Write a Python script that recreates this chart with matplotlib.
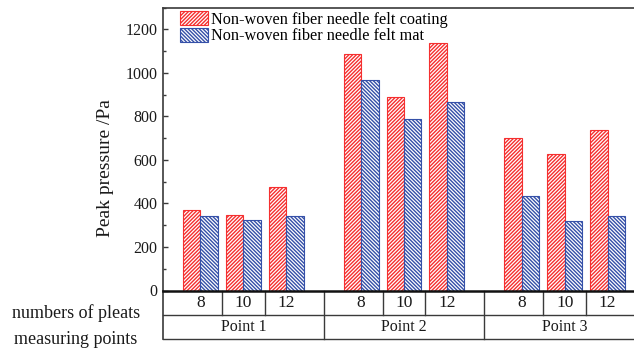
import numpy as np
import matplotlib
matplotlib.use("Agg")
import matplotlib.pyplot as plt
from matplotlib.ticker import MultipleLocator
from matplotlib.patches import Patch

plt.rcParams['font.family'] = ['Liberation Serif', 'DejaVu Serif']
plt.rcParams['hatch.linewidth'] = 1.0

points = ['Point 1', 'Point 2', 'Point 3']
pleats = ['8', '10', '12']
coating = [[368, 345, 475], [1088, 890, 1138], [700, 628, 738]]   # Pa
mat = [[344, 322, 341], [966, 790, 866], [434, 318, 344]]          # Pa

RED = '#f52f2f'
BLUE = '#3550a8'
INK = '#1a1a1a'
LINE = '#3a3a3a'
HATCH_R = '/' * 9
HATCH_B = '\\' * 9

fig = plt.figure(figsize=(6.34, 3.49), dpi=100)
W, H = 634, 349
ax_l, ax_r, ax_t, ax_b = 163, 645, 7.5, 290.5
ax = fig.add_axes([ax_l / W, 1 - ax_b / H, (ax_r - ax_l) / W, (ax_b - ax_t) / H])

group_step = 3.74
bw = 0.407
for g in range(len(points)):
    centers = g * group_step + np.arange(len(pleats))
    ax.bar(centers - bw / 2, coating[g], bw, facecolor='white', edgecolor=RED,
           hatch=HATCH_R, linewidth=0.8)
    ax.bar(centers + bw / 2, mat[g], bw, facecolor='white', edgecolor=BLUE,
           hatch=HATCH_B, linewidth=0.8)

x_left = -group_step / 2 + 1
x_right = x_left + group_step * 3
ax.set_xlim(x_left, x_right)
ax.set_ylim(0, 1300)

ax.yaxis.set_major_locator(MultipleLocator(200))
ax.yaxis.set_minor_locator(MultipleLocator(100))
ax.tick_params(axis='y', which='major', direction='in', length=3.6, width=1,
               color=LINE, labelsize=11.5, labelcolor=INK, pad=4)
ax.tick_params(axis='y', which='minor', direction='in', length=2.2, width=1, color=LINE)
ax.set_xticks([])
ax.spines['right'].set_visible(False)
for s in ['left', 'top']:
    ax.spines[s].set_color(LINE)
    ax.spines[s].set_linewidth(1.2)
ax.spines['bottom'].set_color('#111111')
ax.spines['bottom'].set_linewidth(1.8)

fig.text(105 / W, 1 - 168 / H, 'Peak pressure /Pa', rotation=90, ha='center',
         va='center', fontsize=14, color=INK)

# category table under the axis
axh = ax_b - ax_t
r1 = -24.5 / axh
r2 = -48.5 / axh
tr = ax.get_xaxis_transform()
kw = dict(color=LINE, linewidth=1.0, transform=tr, clip_on=False)
ax.plot([x_left, x_right], [r1, r1], **kw)
ax.plot([x_left, x_right], [r2, r2], **kw)
ax.plot([x_left, x_left], [0, r2], color=LINE, linewidth=1.2, transform=tr, clip_on=False)
for g in range(len(points)):
    g0 = g * group_step
    for b in (0.5, 1.5):
        ax.plot([g0 + b, g0 + b], [0, r1], **kw)
    if g > 0:
        ax.plot([x_left + g0, x_left + g0], [0, r2], **kw)
    for i, lab in enumerate(pleats):
        ax.text(g0 + i, r1 / 2, lab, transform=tr, ha='center', va='center',
                fontsize=12.5, color=INK)
    ax.text(g0 + 1, (r1 + r2) / 2, points[g], transform=tr, ha='center',
            va='center', fontsize=11.5, color=INK)

fig.text(76 / W, 1 - 313 / H, 'numbers of pleats', ha='center', va='center',
         fontsize=13, color=INK)
fig.text(76 / W, 1 - 339 / H, 'measuring points', ha='center', va='center',
         fontsize=13, color=INK)

handles = [Patch(facecolor='white', edgecolor=RED, hatch=HATCH_R, linewidth=0.8),
           Patch(facecolor='white', edgecolor=BLUE, hatch=HATCH_B, linewidth=0.8)]
ax.legend(handles, ['Non-woven fiber needle felt coating', 'Non-woven fiber needle felt mat'],
          loc='upper left', bbox_to_anchor=(15 / (ax_r - ax_l), 0.993), frameon=False,
          fontsize=11.7, handlelength=1.75, handleheight=0.95, handletextpad=0.2,
          labelspacing=0.0, borderaxespad=0.0, borderpad=0.1)

fig.savefig('out.png', dpi=100)
